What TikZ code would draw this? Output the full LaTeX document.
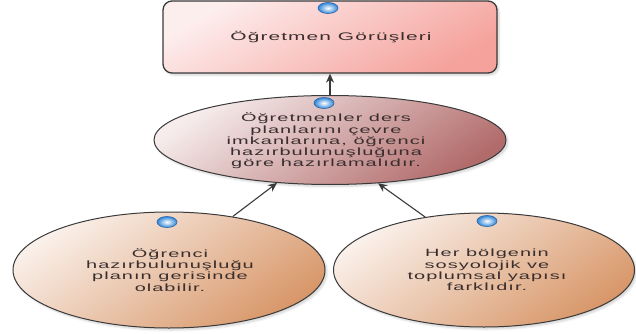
\documentclass[tikz,border=0pt]{standalone}
\usepackage{fontspec}
\setmainfont{Liberation Sans}[FakeStretch=1.9,LetterSpace=10]
\usetikzlibrary{shapes.geometric,arrows.meta,shadows.blur}
\definecolor{txt}{HTML}{3A2E2E}
\definecolor{edge}{HTML}{3A3A3A}
\definecolor{headlight}{HTML}{FDEEEE}
\definecolor{headdark}{HTML}{F5A29C}
\definecolor{claimlight}{HTML}{F6ECEC}
\definecolor{claimdark}{HTML}{B26B6B}
\definecolor{reasonlight}{HTML}{FAF0EA}
\definecolor{reasondark}{HTML}{D89769}
\definecolor{knobedge}{HTML}{2A63A8}
\definecolor{knobblue}{HTML}{2F86D6}
\begin{document}
\begin{tikzpicture}[x=1pt,y=-1pt,
  every node/.style={inner sep=0pt},
  label text/.style={text=txt,align=center,font=\fontsize{10.5}{11.2}\selectfont},
  soft shadow/.style={blur shadow={shadow xshift=2pt,shadow yshift=-2pt,shadow opacity=18,shadow blur steps=6}},
  headbox/.style={rectangle,rounded corners=9pt,draw=edge,line width=1.3pt,
    minimum width=334pt,minimum height=72pt,soft shadow,
    top color=headlight,bottom color=headdark,shading angle=30},
  claim/.style={ellipse,draw=edge,line width=1pt,soft shadow,
    top color=claimlight,bottom color=claimdark,shading angle=35},
  reason/.style={ellipse,draw=edge,line width=1pt,soft shadow,
    top color=reasonlight,bottom color=reasondark,shading angle=35},
  knob/.style={ellipse,minimum width=20pt,minimum height=11pt,draw=knobedge,
    line width=0.6pt,inner color=white,outer color=knobblue},
  link/.style={draw=edge,line width=1.1pt,-{Stealth[length=9pt,width=8pt]}}
]
\useasboundingbox (0,0) rectangle (636,334);

% boxes
\node[headbox] (T) at (330,37) {};
\node[claim,minimum width=352pt,minimum height=89pt] (M) at (330,140) {};
\node[reason,minimum width=312pt,minimum height=116pt] (L) at (169,270) {};
\node[reason,minimum width=301pt,minimum height=114pt] (R) at (484,270) {};

% texts
\node[label text,font=\fontsize{11}{12}\selectfont] (tT) at (331,37) {Öğretmen Görüşleri};
\node[label text] (tM) at (326,141) {Öğretmenler ders\\planlarını çevre\\imkanlarına, öğrenci\\hazırbulunuşluğuna\\göre hazırlamalıdır.};
\node[label text] (tL) at (170,270) {Öğrenci\\hazırbulunuşluğu\\planın gerisinde\\olabilir.};
\node[label text] (tR) at (487,270) {Her bölgenin\\sosyolojik ve\\toplumsal yapısı\\farklıdır.};

% knobs
\node[knob] (kT) at (328,8) {};
\node[knob] (kM) at (324,103) {};
\node[knob] (kL) at (167,222) {};
\node[knob] (kR) at (487,221) {};

% connectors
\draw[link] (M.north) -- (T.south);
\draw[link] (L.40) -- (M.-141);
\draw[link] (R.138) -- (M.-42);
\end{tikzpicture}
\end{document}
